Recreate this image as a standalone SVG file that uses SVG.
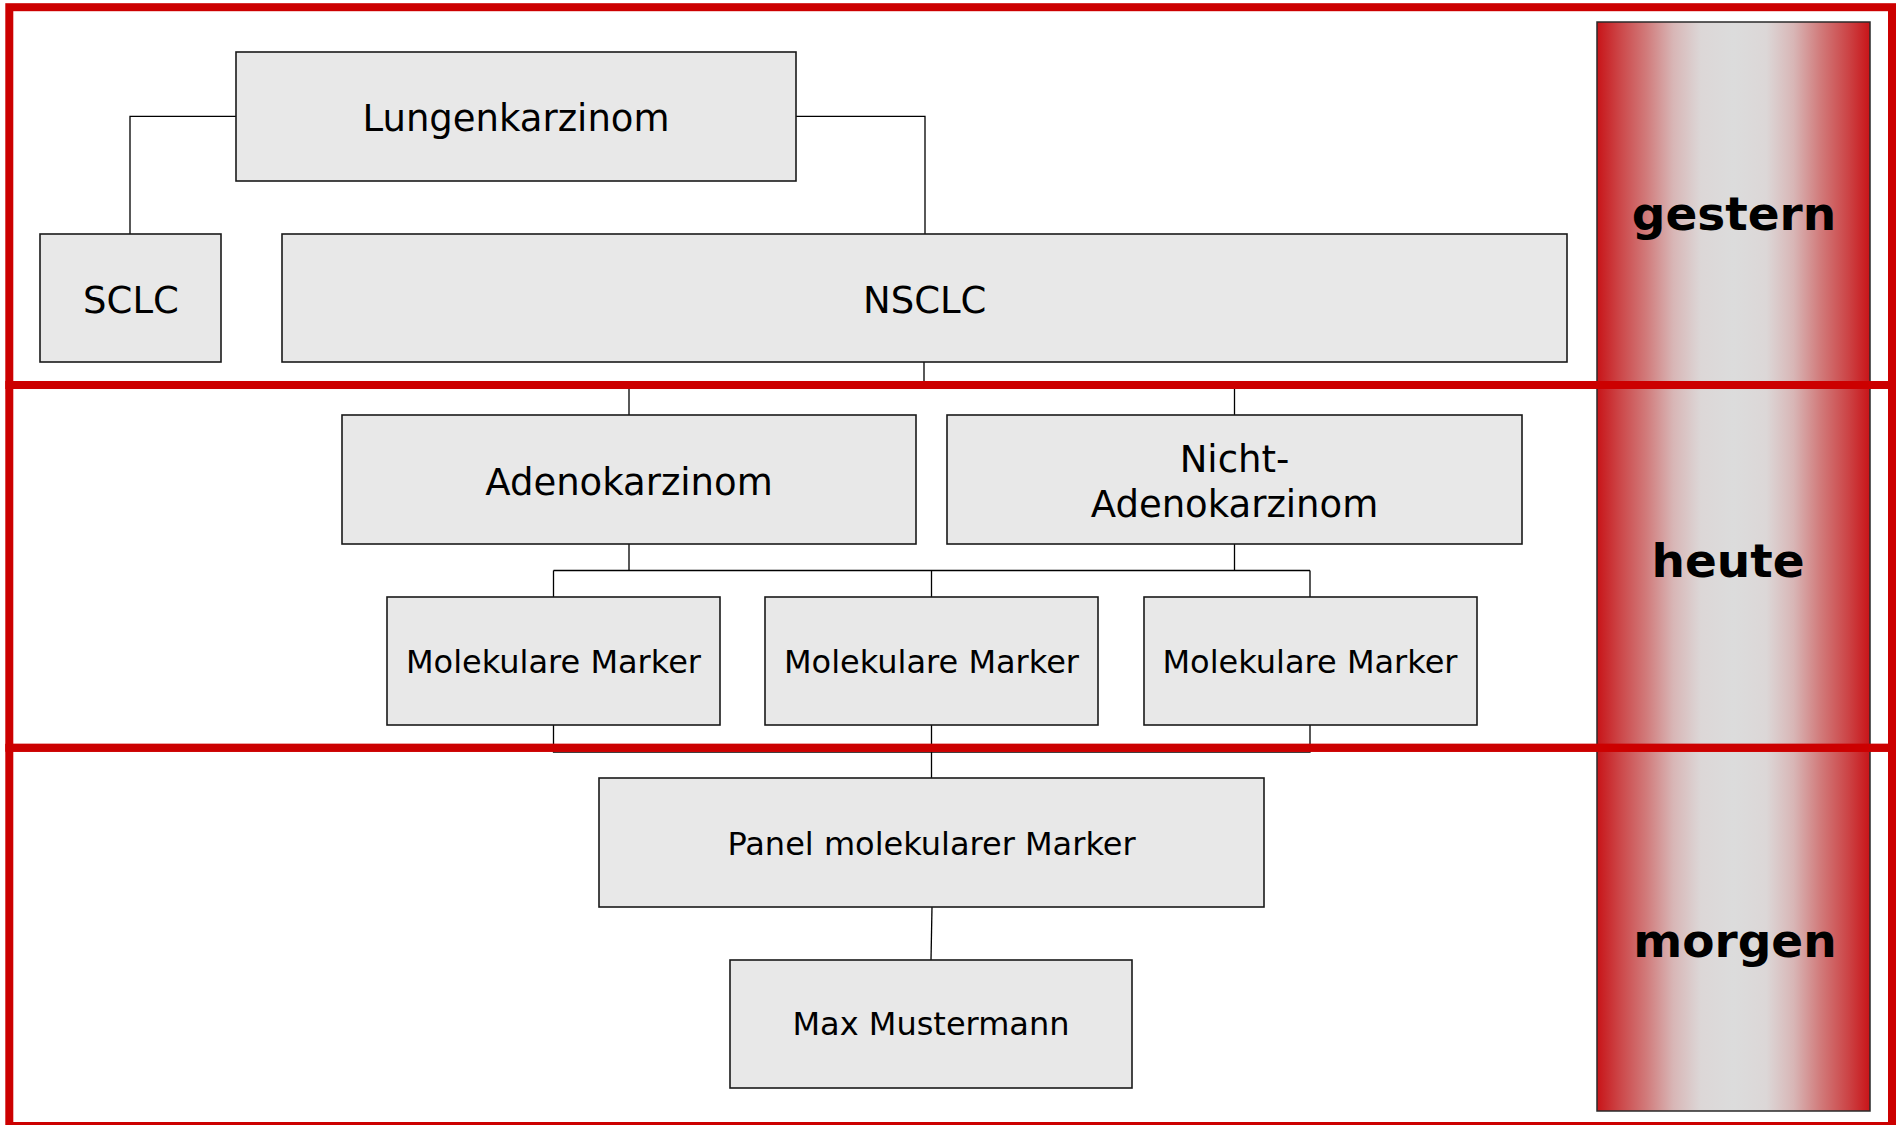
<svg xmlns="http://www.w3.org/2000/svg" width="1896" height="1125" viewBox="0 0 1896 1125">
<style>
.node rect{fill:#e8e8e8;stroke:#1a1a1a;stroke-width:1.6}
.node text{font-family:"DejaVu Sans",Verdana,sans-serif;fill:#000;text-anchor:middle}
.big{font-size:37px}
.small{font-size:32px}
.conn{fill:none;stroke:#000;stroke-width:1.3}
.band{fill:none;stroke:#cc0000;stroke-width:8}
.era{font-family:"DejaVu Sans",Verdana,sans-serif;font-weight:bold;font-size:47px;fill:#000;text-anchor:middle}
</style>
<defs>
<linearGradient id="barGrad" x1="0" y1="0" x2="1" y2="0">
<stop offset="0" stop-color="#c81418"/>
<stop offset="0.08" stop-color="#cc4446"/>
<stop offset="0.18" stop-color="#d17a7a"/>
<stop offset="0.28" stop-color="#d8b6b6"/>
<stop offset="0.38" stop-color="#dcd7d7"/>
<stop offset="0.5" stop-color="#dcdcdc"/>
<stop offset="0.62" stop-color="#dcd7d7"/>
<stop offset="0.72" stop-color="#d8b6b6"/>
<stop offset="0.82" stop-color="#d17a7a"/>
<stop offset="0.92" stop-color="#cc4446"/>
<stop offset="1" stop-color="#c81418"/>
</linearGradient>
</defs>
<rect width="1896" height="1125" fill="#fff"/>
<g id="timeline">
<rect x="1597" y="22" width="273" height="1089" fill="url(#barGrad)" stroke="#2a2a2a" stroke-width="1.5"/>
<text class="era" x="1734" y="230">gestern</text>
<text class="era" x="1728" y="577">heute</text>
<text class="era" x="1735" y="957">morgen</text>
</g>
<g id="connectors">
<path class="conn" d="M236,116.3 H130 V234"/>
<path class="conn" d="M796,116.3 H925 V234"/>
<path class="conn" d="M924,362 V385 M629,385 H1234.5 M629,385 V415 M1234.5,385 V415"/>
<path class="conn" d="M629,544 V570.5 M1234.5,544 V570.5 M553.5,570.5 H1310 M553.5,570.5 V597 M931.5,570.5 V597 M1310,570.5 V597"/>
<path class="conn" d="M553.5,725 V752.2 H1310 V725 M931.5,725 V778"/>
<path class="conn" d="M932,907 L931,960"/>
</g>
<g id="bands">
<rect class="band" x="9.3" y="7.2" width="1882.7" height="377.8"/>
<rect class="band" x="9.3" y="385" width="1882.7" height="362.8"/>
<rect class="band" x="9.3" y="747.8" width="1882.7" height="378.2"/>
</g>
<g id="n-lungenkarzinom" class="node">
<rect x="236" y="52" width="560" height="129"/>
<text class="big" x="516" y="131">Lungenkarzinom</text>
</g>
<g id="n-sclc" class="node">
<rect x="40" y="234" width="181" height="128"/>
<text class="big" x="131" y="313">SCLC</text>
</g>
<g id="n-nsclc" class="node">
<rect x="282" y="234" width="1285" height="128"/>
<text class="big" x="924.7" y="313">NSCLC</text>
</g>
<g id="n-adeno" class="node">
<rect x="342" y="415" width="574" height="129"/>
<text class="big" x="629" y="495">Adenokarzinom</text>
</g>
<g id="n-nicht-adeno" class="node">
<rect x="947" y="415" width="575" height="129"/>
<text class="big" x="1234.5" y="471.7">Nicht-</text>
<text class="big" x="1234.5" y="516.7">Adenokarzinom</text>
</g>
<g id="n-marker1" class="node">
<rect x="387" y="597" width="333" height="128"/>
<text class="small" x="553.5" y="673">Molekulare Marker</text>
</g>
<g id="n-marker2" class="node">
<rect x="765" y="597" width="333" height="128"/>
<text class="small" x="931.5" y="673">Molekulare Marker</text>
</g>
<g id="n-marker3" class="node">
<rect x="1144" y="597" width="333" height="128"/>
<text class="small" x="1310" y="673">Molekulare Marker</text>
</g>
<g id="n-panel" class="node">
<rect x="599" y="778" width="665" height="129"/>
<text class="small" x="931.5" y="855">Panel molekularer Marker</text>
</g>
<g id="n-max" class="node">
<rect x="730" y="960" width="402" height="128"/>
<text class="small" x="931" y="1035">Max Mustermann</text>
</g>
</svg>
